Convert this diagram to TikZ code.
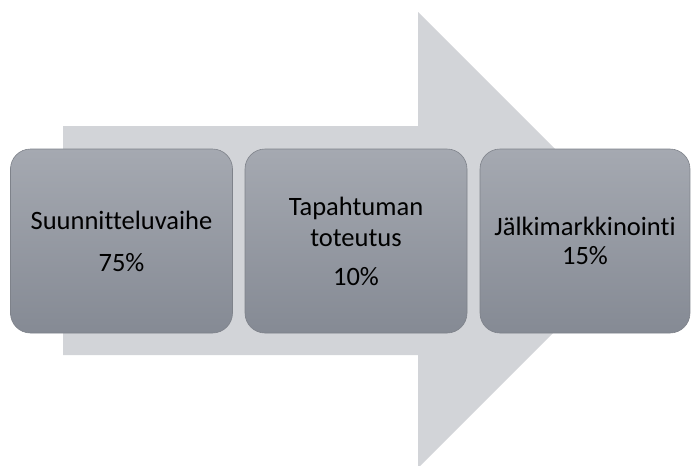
\documentclass[tikz,border=0pt]{standalone}
\usepackage{fontspec}
\setmainfont[Ligatures=NoCommon]{Carlito}
\definecolor{arrowgray}{HTML}{D2D4D8}
\definecolor{boxtop}{HTML}{A5A9B1}
\definecolor{boxbot}{HTML}{858A94}
\definecolor{boxline}{HTML}{7E828A}
\tikzset{
  phasebox/.style={draw=boxline, line width=0.6pt, rounded corners=20pt,
    top color=boxtop, bottom color=boxbot, minimum height=184pt,
    inner sep=0pt, align=center, text=black,
    font=\fontsize{26.5}{31}\selectfont}
}
\begin{document}
\begin{tikzpicture}[x=1pt,y=-1pt]
\useasboundingbox (0,0) rectangle (691,466);
\fill[arrowgray] (63,126) -- (418,126) -- (418,12) -- (646,240) -- (418,468) -- (418,355) -- (63,355) -- cycle;
\node[phasebox, minimum width=222pt] (b1) at (121.5,241) {Suunnitteluvaihe\\[11pt]75\%};
\node[phasebox, minimum width=222pt] (b2) at (356,241) {Tapahtuman\\toteutus\\[8pt]10\%};
\node[phasebox, minimum width=210pt] (b3) at (585,241) {Jälkimarkkinointi\\[-2pt]15\%};
\end{tikzpicture}
\end{document}
